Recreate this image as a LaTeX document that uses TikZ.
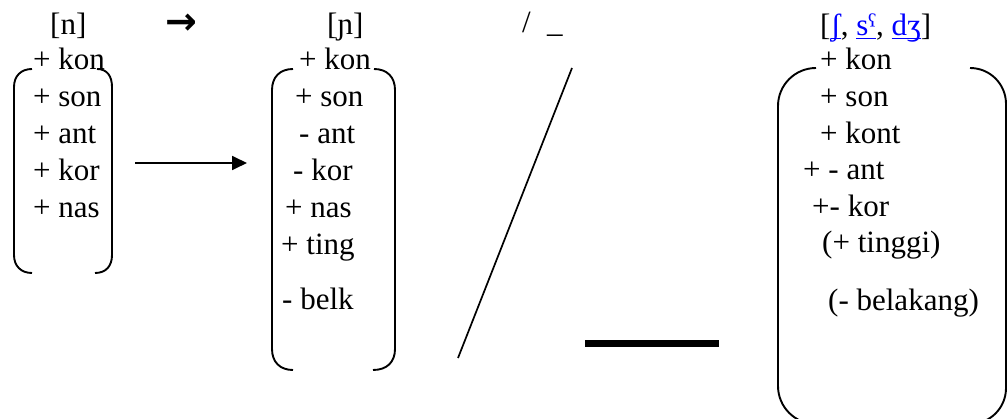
\documentclass[tikz,border=0pt]{standalone}
\usepackage{fontspec}
\setmainfont{Liberation Serif}
\newfontfamily\symfont{DejaVu Sans}
\usetikzlibrary{arrows.meta}
\newcommand\featfont{\fontsize{31}{37}\selectfont}
% blue, underlined link-style segment
\newcommand\linkseg[1]{\textcolor{blue}{\setbox0\hbox{#1}\rlap{\rule[-3.5pt]{\wd0}{1.3pt}}\box0}}
\tikzset{
  feat/.style={anchor=base west, inner sep=0pt, font=\featfont},
  bracket/.style={line width=1.9pt},
  rulearrow/.style={line width=1.8pt, -{Triangle[length=15pt,width=14pt]}},
}
\begin{document}
\begin{tikzpicture}[x=1pt,y=-1pt]
\useasboundingbox (0,0) rectangle (1008,419);

% ---------- input segment [n] ----------
\node[feat] (nhead) at (50,35) {[n]};
\node[feat] (nkon) at (33,70)  {+ kon};
\node[feat] (nson) at (33,107) {+ son};
\node[feat] (nant) at (33,144) {+ ant};
\node[feat] (nkor) at (33,181) {+ kor};
\node[feat] (nnas) at (33,218) {+ nas};
\draw[bracket] (32,69) .. controls (21,69) and (14,76) .. (14,87) -- (14,255)
  .. controls (14,266) and (21,273) .. (32,273);
\draw[bracket] (97,69) .. controls (107,69) and (112,76) .. (112,87) -- (112,255)
  .. controls (112,266) and (106,273) .. (95,273);

% rewrite arrow
\node[inner sep=0pt, font={\symfont\fontsize{38}{44}\selectfont\bfseries}] (rewrite) at (181.5,24) {→};

% ---------- output segment [ɲ] ----------
\node[feat] (phead) at (327,35) {[ɲ]};
\node[feat] (pkon)  at (299,70)  {+ kon};
\node[feat] (pson)  at (295,107) {+ son};
\node[feat] (pant)  at (299,144) {- ant};
\node[feat] (pkor)  at (293,181) {- kor};
\node[feat] (pnas)  at (285,218) {+ nas};
\node[feat] (pting) at (281,255) {+ ting};
\node[feat] (pbelk) at (282,309) {- belk};
\draw[bracket] (293,69) .. controls (280,69) and (272,77) .. (272,90) -- (272,349)
  .. controls (272,362) and (280,370) .. (293,370);
\draw[bracket] (374,69) .. controls (387,69) and (395,77) .. (395,90) -- (395,349)
  .. controls (395,362) and (387,370) .. (373,370);

% feature-change arrow between the matrices
\coordinate (arrfrom) at (135,163);
\coordinate (arrto) at (247,163);
\draw[rulearrow] (arrfrom) -- (arrto);

% ---------- environment ----------
\node[feat] (slash) at (522,33) {/};
\node[feat] (blank) at (547,33) {\_};
\coordinate (slashtop) at (572,68);
\coordinate (slashbot) at (458,358);
\draw[line width=1.7pt] (slashtop) -- (slashbot);
\coordinate (barl) at (585,343.5);
\coordinate (barr) at (719,343.5);
\draw[line width=7pt] (barl) -- (barr);

% ---------- trigger segments ----------
\node[feat] (thead) at (820,36) {[\linkseg{ʃ}, \linkseg{sˤ}, \linkseg{dʒ}]};
\node[feat] (tkon)  at (820,70)  {+ kon};
\node[feat] (tson)  at (820,107) {+ son};
\node[feat] (tkont) at (820,144) {+ kont};
\node[feat] (tant)  at (803,180) {+ - ant};
\node[feat] (tkor)  at (812,217) {+- kor};
\node[feat] (ttin)  at (822,253) {(+ tinggi)};
\node[feat] (tbel)  at (828,310) {(- belakang)};
\draw[bracket] (816,68) .. controls (795,68) and (778,85) .. (778,106) -- (778,386)
  .. controls (778,407) and (795,424) .. (816,424) -- (970,424)
  .. controls (990,424) and (1006,408) .. (1006,388) -- (1006,104)
  .. controls (1006,84) and (990,68) .. (970,68);
\end{tikzpicture}
\end{document}
